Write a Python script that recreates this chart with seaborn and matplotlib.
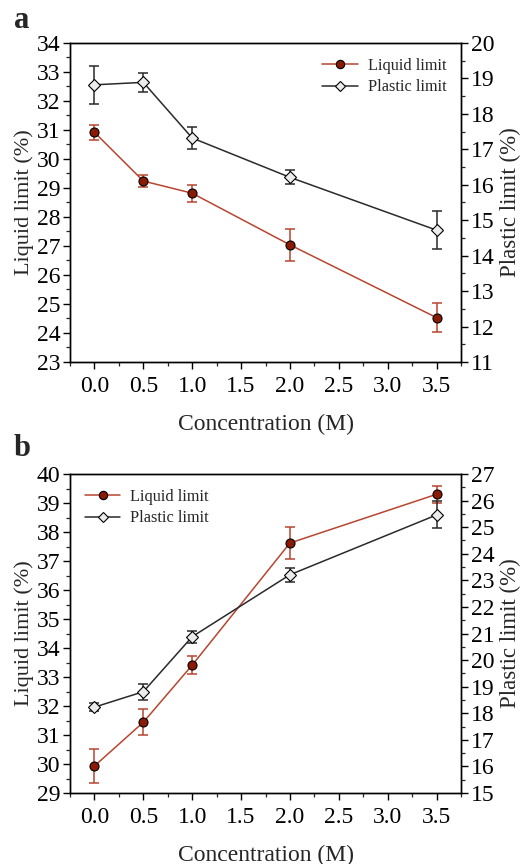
import matplotlib
matplotlib.use("Agg")
import matplotlib.pyplot as plt
import seaborn as sns
import numpy as np
import pandas as pd
from matplotlib.ticker import MultipleLocator
from matplotlib.lines import Line2D

conc = [0.0, 0.5, 1.0, 2.0, 3.5]
a_liquid = [30.92, 29.24, 28.82, 27.04, 24.53]
a_liquid_err = [0.26, 0.21, 0.30, 0.55, 0.50]
a_plastic = [18.82, 18.89, 17.32, 16.21, 14.72]
a_plastic_err = [0.53, 0.26, 0.30, 0.20, 0.53]
b_liquid = [29.93, 31.44, 33.41, 37.62, 39.30]
b_liquid_err = [0.60, 0.45, 0.31, 0.55, 0.30]
b_plastic = [18.23, 18.81, 20.88, 23.21, 25.46]
b_plastic_err = [0.16, 0.30, 0.23, 0.27, 0.51]
xticks = [0.0, 0.5, 1.0, 1.5, 2.0, 2.5, 3.0, 3.5]

sns.set_theme(style="ticks")
plt.rcParams['font.family'] = ['Liberation Serif', 'DejaVu Serif']
plt.rcParams['mathtext.fontset'] = 'stix'

RED_LINE = "#b8452f"
RED_FACE = "#8a1a04"
GRAY_LINE = "#2a2a2a"
FACE_W = "#ececec"

fig = plt.figure(figsize=(5.30, 8.64), dpi=100)
W, H = 530, 864
axa = fig.add_axes([70 / W, 1 - 362 / H, (461 - 70) / W, (362 - 43) / H])
axb = fig.add_axes([70 / W, 1 - 793 / H, (461 - 70) / W, (793 - 474) / H])


def panel(ax, liq, liq_e, pla, pla_e, lylim, rylim, legloc, letter, lety):
    ax2 = ax.twinx()
    df = pd.DataFrame({"c": conc, "liq": liq, "pla": pla})
    ax.errorbar(conc, liq, yerr=liq_e, fmt="none", ecolor=RED_LINE, elinewidth=1.1,
                capsize=3.5, capthick=1.1, zorder=2)
    sns.lineplot(data=df, x="c", y="liq", ax=ax, color=RED_LINE, lw=1.1, marker="o",
                 markersize=6.5, markerfacecolor=RED_FACE, markeredgecolor="black",
                 markeredgewidth=0.8, zorder=3, legend=False)
    ax2.errorbar(conc, pla, yerr=pla_e, fmt="none", ecolor=GRAY_LINE, elinewidth=1.1,
                 capsize=3.5, capthick=1.1, zorder=2)
    sns.lineplot(data=df, x="c", y="pla", ax=ax2, color=GRAY_LINE, lw=1.1, marker="D",
                 markersize=6, markerfacecolor=FACE_W, markeredgecolor="black",
                 markeredgewidth=0.8, zorder=3, legend=False)
    ax.set_xlim(-0.25, 3.75)
    ax.set_ylim(*lylim)
    ax2.set_ylim(*rylim)
    ax.set_xticks(xticks)
    ax.set_xticklabels([f"{v:.1f}" for v in xticks])
    ax.xaxis.set_minor_locator(MultipleLocator(0.25))
    ax.yaxis.set_major_locator(MultipleLocator(1))
    ax.yaxis.set_minor_locator(MultipleLocator(0.5))
    ax2.yaxis.set_major_locator(MultipleLocator(1))
    ax2.yaxis.set_minor_locator(MultipleLocator(0.5))
    for a in (ax, ax2):
        a.tick_params(which="major", direction="out", length=5, width=1.0,
                      labelsize=17, colors="black", pad=2)
        a.tick_params(which="minor", direction="out", length=3, width=0.9)
        for s in a.spines.values():
            s.set_linewidth(1.0)
            s.set_color("black")
    ax.tick_params(axis="x", which="major", pad=5)
    ax.set_xlabel("Concentration (M)", fontsize=17, labelpad=12)
    ax.set_ylabel("Liquid limit (%)", fontsize=16, labelpad=2)
    ax2.set_ylabel("Plastic limit (%)", fontsize=16.5, labelpad=4)
    handles = [
        Line2D([], [], color=RED_LINE, lw=1.1, marker="o", markersize=6,
               markerfacecolor=RED_FACE, markeredgecolor="black", markeredgewidth=0.8),
        Line2D([], [], color=GRAY_LINE, lw=1.1, marker="D", markersize=5,
               markerfacecolor=FACE_W, markeredgecolor="black", markeredgewidth=0.8),
    ]
    ax2.legend(handles, ["Liquid limit", "Plastic limit"], loc=legloc, frameon=False,
               fontsize=11.7, handlelength=2.2, handletextpad=0.6, labelspacing=0.35,
               borderaxespad=0.5)
    fig.text(14 / W, 1 - lety / H, letter, fontsize=22, fontweight="bold",
             va="center", ha="left")
    return ax2


panel(axa, a_liquid, a_liquid_err, a_plastic, a_plastic_err, (23, 34), (11, 20),
      "upper right", "a", 20)
panel(axb, b_liquid, b_liquid_err, b_plastic, b_plastic_err, (29, 40), (15, 27),
      "upper left", "b", 449)

fig.savefig("out.png", dpi=100)
